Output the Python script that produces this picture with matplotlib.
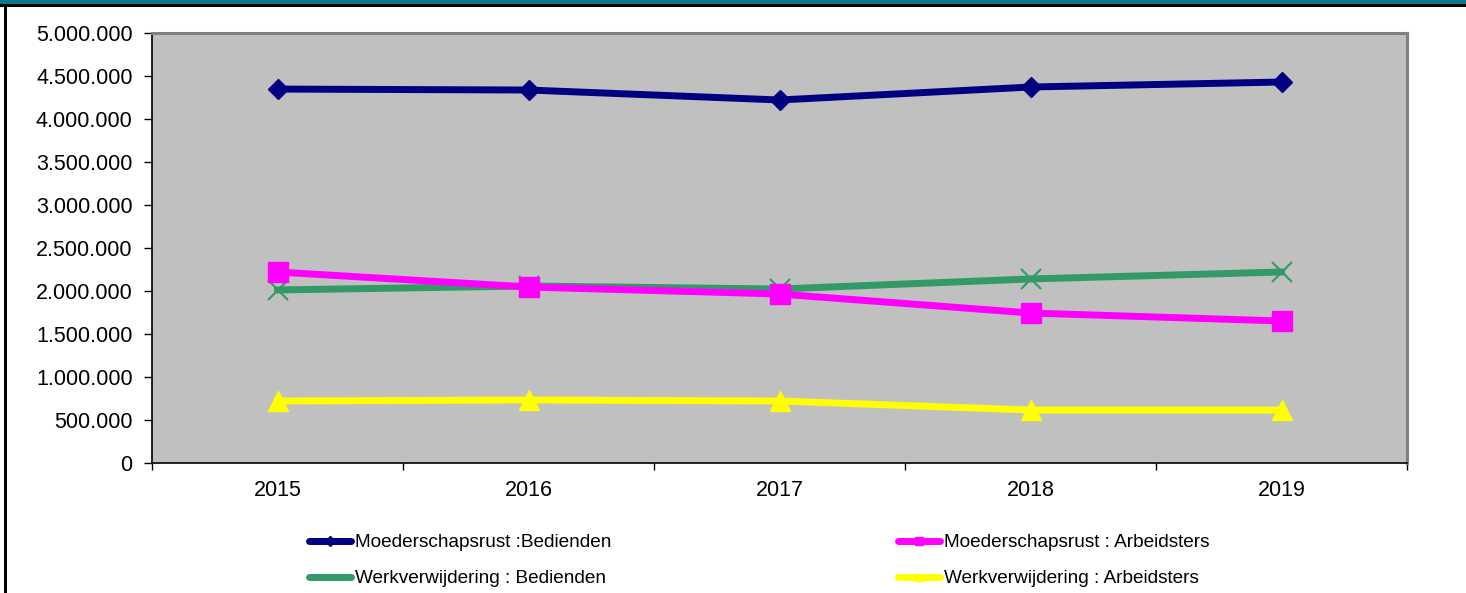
import matplotlib
matplotlib.use("Agg")
import matplotlib.pyplot as plt
from matplotlib.lines import Line2D
from matplotlib.patches import Rectangle
from matplotlib.ticker import FuncFormatter, FixedLocator

plt.rcParams['font.family'] = ['Liberation Sans', 'DejaVu Sans']

years = ["2015", "2016", "2017", "2018", "2019"]
moeder_bedienden = [4348000, 4337000, 4221000, 4372000, 4430000]
moeder_arbeidsters = [2221000, 2046000, 1965000, 1744000, 1651000]
werk_bedienden = [2012000, 2058000, 2023000, 2140000, 2221000]
werk_arbeidsters = [721000, 733000, 721000, 616000, 616000]
labels = ["Moederschapsrust :Bedienden", "Moederschapsrust : Arbeidsters",
          "Werkverwijdering : Bedienden", "Werkverwijdering : Arbeidsters"]

W, H = 1466, 593
fig = plt.figure(figsize=(W / 100, H / 100), dpi=100)
fig.patch.set_facecolor("white")

# top band and frame
fig.patches.append(Rectangle((0, 1 - 4 / H), 1, 4 / H, transform=fig.transFigure,
                             facecolor="#0A7A8A", edgecolor="none", zorder=0))
fig.patches.append(Rectangle((0, 1 - 7 / H), 1, 3 / H, transform=fig.transFigure,
                             facecolor="black", edgecolor="none", zorder=0))
fig.patches.append(Rectangle((4 / W, 0), 3 / W, 1 - 4 / H, transform=fig.transFigure,
                             facecolor="black", edgecolor="none", zorder=0))

left, right, top, bottom = 152, 1407, 33, 463
ax = fig.add_axes([left / W, 1 - bottom / H, (right - left) / W, (bottom - top) / H])
ax.set_facecolor("#C0C0C0")

x = list(range(len(years)))
ax.plot(x, moeder_bedienden, color="#000080", lw=5, marker="D", ms=10.5,
        mec="#000080", zorder=5)
ax.plot(x, werk_bedienden, color="#339966", lw=5, marker="x", ms=14, mew=1.5,
        mec="#339966", zorder=4)
ax.plot(x, moeder_arbeidsters, color="#FF00FF", lw=5, marker="s", ms=14,
        mec="#FF00FF", zorder=6)
ax.plot(x, werk_arbeidsters, color="#FFFF00", lw=5, marker="^", ms=14,
        mec="#FFFF00", zorder=5)

ax.set_xlim(-0.5, len(years) - 0.5)
ax.set_ylim(0, 5000000)
ax.set_yticks(range(0, 5000001, 500000))
ax.yaxis.set_major_formatter(FuncFormatter(lambda v, p: f"{int(v):,}".replace(",", ".")))
ax.xaxis.set_major_locator(FixedLocator([i - 0.5 for i in range(len(years) + 1)]))
ax.set_xticklabels([])
ax.set_xticks(x, minor=True)
ax.set_xticklabels(years, minor=True)
ax.tick_params(axis="x", which="minor", length=0, pad=12, labelsize=15.5)
ax.tick_params(axis="x", which="major", length=5, width=1, color="black")
ax.tick_params(axis="y", length=6, width=1, labelsize=15.5, pad=8)

for s in ["left", "bottom"]:
    ax.spines[s].set_color("black")
    ax.spines[s].set_linewidth(1.2)
for s in ["top", "right"]:
    ax.spines[s].set_color("#808080")
    ax.spines[s].set_linewidth(2.2)

handles = [
    Line2D([], [], color="#000080", lw=5, marker="D", ms=5, solid_capstyle="round"),
    Line2D([], [], color="#339966", lw=5, marker="x", ms=5, mew=1, solid_capstyle="round"),
    Line2D([], [], color="#FF00FF", lw=5, marker="s", ms=6, solid_capstyle="round"),
    Line2D([], [], color="#FFFF00", lw=5, marker="^", ms=6, solid_capstyle="round"),
]
leg_labels = [labels[0], labels[2], labels[1], labels[3]]
leg = fig.legend(handles, leg_labels, ncol=2, frameon=False, fontsize=13.7,
                 loc="upper left", bbox_to_anchor=(309 / W, 1 - 534 / H),
                 bbox_transform=fig.transFigure, handlelength=2.2, handletextpad=0.2,
                 columnspacing=15.1, labelspacing=0.98, borderpad=0, borderaxespad=0)

fig.savefig("out.png", dpi=100, facecolor="white")
